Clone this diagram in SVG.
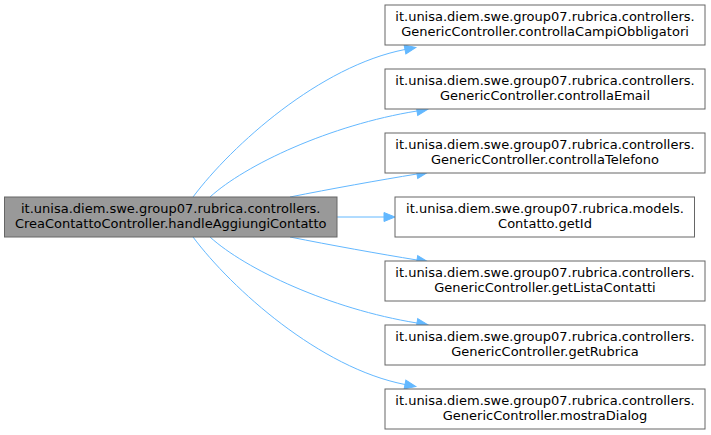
<svg xmlns="http://www.w3.org/2000/svg" width="711" height="435" viewBox="0 0 711 435">
<style>
.n rect{fill:#ffffff;stroke:#666666;stroke-width:1}
.m rect{fill:#999999;stroke:#666666;stroke-width:1}
text{font-family:"DejaVu Sans",sans-serif;font-size:13px;fill:#000;text-anchor:middle}
.e path{fill:none;stroke:#63b8ff;stroke-width:1}
</style>
<defs>
<marker id="ah" markerUnits="userSpaceOnUse" markerWidth="12" markerHeight="10" refX="0" refY="4.5" orient="auto" overflow="visible">
<path d="M0,0 L11,4.5 L0,9 z" fill="#63b8ff" stroke="#63b8ff" stroke-width="1"/>
</marker>
</defs>
<rect width="711" height="435" fill="#ffffff"/>
<g id="connectors" class="e">
<path d="M193,197 C232,145 320,66 405,49.5" marker-end="url(#ah)"/>
<path d="M210,197 C245,165 330,125 417,111" marker-end="url(#ah)"/>
<path d="M290,197 C330,189 380,180 417,174" marker-end="url(#ah)"/>
<path d="M337,217 L384,217" marker-end="url(#ah)"/>
<path d="M290,237 C330,245 380,254 417,260" marker-end="url(#ah)"/>
<path d="M210,237 C245,269 330,309 417,323" marker-end="url(#ah)"/>
<path d="M193,237 C232,289 320,368 405,384.5" marker-end="url(#ah)"/>
</g>
<g id="main" class="m">
<rect x="4.5" y="197" width="332.5" height="40"/>
<text x="170.7" y="212.5">it.unisa.diem.swe.group07.rubrica.controllers.</text>
<text x="170.7" y="227.5">CreaContattoController.handleAggiungiContatto</text>
</g>
<g id="n1" class="n">
<rect x="385" y="5" width="320" height="40"/>
<text x="545" y="20.5">it.unisa.diem.swe.group07.rubrica.controllers.</text>
<text x="545" y="35.5">GenericController.controllaCampiObbligatori</text>
</g>
<g id="n2" class="n">
<rect x="385" y="69" width="320" height="40"/>
<text x="545" y="84.5">it.unisa.diem.swe.group07.rubrica.controllers.</text>
<text x="545" y="99.5">GenericController.controllaEmail</text>
</g>
<g id="n3" class="n">
<rect x="385" y="133" width="320" height="40"/>
<text x="545" y="148.5">it.unisa.diem.swe.group07.rubrica.controllers.</text>
<text x="545" y="163.5">GenericController.controllaTelefono</text>
</g>
<g id="n4" class="n">
<rect x="395" y="197" width="299.5" height="40"/>
<text x="545" y="212.5">it.unisa.diem.swe.group07.rubrica.models.</text>
<text x="545" y="227.5">Contatto.getId</text>
</g>
<g id="n5" class="n">
<rect x="385" y="261" width="320" height="40"/>
<text x="545" y="276.5">it.unisa.diem.swe.group07.rubrica.controllers.</text>
<text x="545" y="291.5">GenericController.getListaContatti</text>
</g>
<g id="n6" class="n">
<rect x="385" y="325" width="320" height="40"/>
<text x="545" y="340.5">it.unisa.diem.swe.group07.rubrica.controllers.</text>
<text x="545" y="355.5">GenericController.getRubrica</text>
</g>
<g id="n7" class="n">
<rect x="385" y="389" width="320" height="40"/>
<text x="545" y="404.5">it.unisa.diem.swe.group07.rubrica.controllers.</text>
<text x="545" y="419.5">GenericController.mostraDialog</text>
</g>
</svg>
